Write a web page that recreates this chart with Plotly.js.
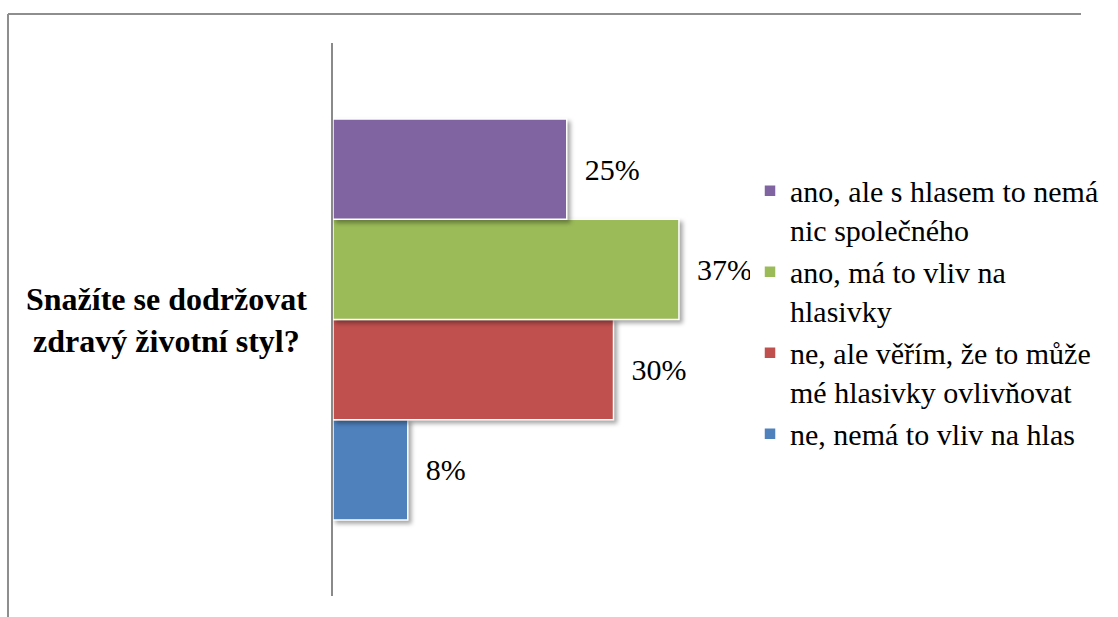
<!DOCTYPE html>
<html><head><meta charset="utf-8">
<script src="https://cdn.plot.ly/plotly-3.0.1.min.js"></script>
</head>
<body style="margin:0">
<div id="chart" style="width:1118px;height:617px"></div>
<script>
// Data
var category = ["Snažíte se dodržovat zdravý životní styl?"];
var categoryLabel = "Snažíte se dodržovat<br>zdravý životní styl?";
var seriesNames = [
  "ne, nemá to vliv na hlas",
  "ne, ale věřím, že to může<br>mé hlasivky ovlivňovat",
  "ano, má to vliv na<br>hlasivky",
  "ano, ale s hlasem to nemá<br>nic společného"
];
var seriesValues = [0.08, 0.30, 0.37, 0.25];
var seriesColors = ["#4F81BD", "#C0504D", "#9BBB59", "#8064A2"];

var FONT = "Liberation Serif";

var traces = seriesNames.map(function (name, i) {
  return {
    type: "bar", orientation: "h", name: name, y: category, x: [seriesValues[i]],
    marker: { color: seriesColors[i], line: { color: "#ffffff", width: 1.5 } },
    text: ["  " + Math.round(seriesValues[i] * 100) + "%"],
    textposition: "outside",
    constraintext: "none", cliponaxis: false,
    textfont: { family: FONT, size: 30 },
    hoverinfo: "skip"
  };
});

var layout = {
  width: 1118, height: 617,
  margin: { l: 333, r: 411, t: 43, b: 21 },
  barmode: "group", bargap: 0.275, bargroupgap: 0,
  showlegend: true,
  font: { family: FONT, size: 30, color: "#000000" },
  xaxis: { range: [0, 0.40], showgrid: false, zeroline: false, showline: false, showticklabels: false, ticks: "" },
  yaxis: { type: "category", showgrid: false, zeroline: false, showline: true,
           linecolor: "#8a8a8a", linewidth: 2, showticklabels: false, ticks: "" },
  legend: { x: 1.115, xanchor: "left", y: 0.78, yanchor: "top",
            traceorder: "reversed", valign: "top",
            font: { family: FONT, size: 30 } },
  shapes: [
    { type: "line", xref: "paper", yref: "paper", x0: -0.869, x1: 2, y0: 1.0524, y1: 1.0524,
      line: { color: "#8e8e8e", width: 2 } },
    { type: "line", xref: "paper", yref: "paper", x0: -0.869, x1: -0.869, y0: 1.0524, y1: -0.1,
      line: { color: "#8e8e8e", width: 2 } }
  ],
  annotations: [{ xref: "paper", yref: "y", x: -0.4465, y: category[0],
    xanchor: "center", yanchor: "middle",
    text: "<b>" + categoryLabel + "</b>", align: "center", showarrow: false,
    font: { family: FONT, size: 32 } }]
};

Plotly.newPlot("chart", traces, layout, { staticPlot: true }).then(function () {
  document.querySelectorAll(".bars .point path").forEach(function (p) {
    p.style.filter = "drop-shadow(3px 3px 2px rgba(0,0,0,0.35))";
  });
});
</script>
</body></html>
